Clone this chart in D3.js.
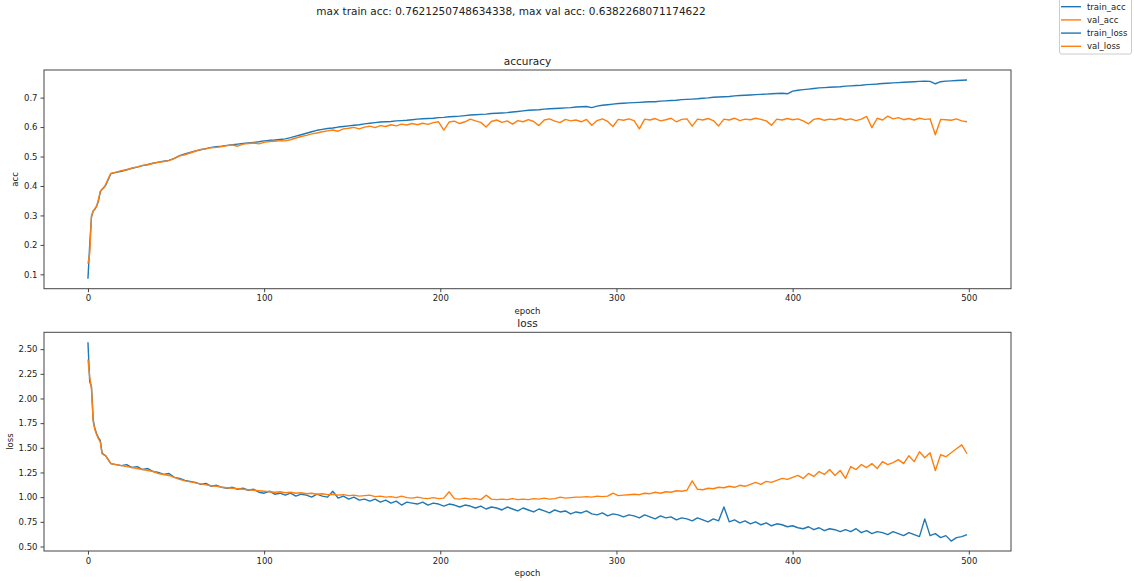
<!DOCTYPE html>
<html>
<head>
<meta charset="utf-8">
<script src="https://cdn.jsdelivr.net/npm/d3@7"></script>
<style>
    body { margin: 0; background: #fff; }
    svg text { font-family: "DejaVu Sans", sans-serif; fill: #222; }
</style>
</head>
<body>
<div id="chart"></div>
<script>
// epochs sampled from the training history
const epochs = [0, 1, 2, 3, 4, 5, 6, 7, 8, 9,
    10, 13, 16, 19, 22, 25, 28, 31, 34, 37,
    40, 43, 46, 49, 52, 55, 58, 61, 64, 67,
    70, 73, 76, 79, 82, 85, 88, 91, 94, 97,
    100, 103, 106, 109, 112, 115, 118, 121, 124, 127,
    130, 133, 136, 139, 142, 145, 148, 151, 154, 157,
    160, 163, 166, 169, 172, 175, 178, 181, 184, 187,
    190, 193, 196, 199, 202, 205, 208, 211, 214, 217,
    220, 223, 226, 229, 232, 235, 238, 241, 244, 247,
    250, 253, 256, 259, 262, 265, 268, 271, 274, 277,
    280, 283, 286, 289, 292, 295, 298, 301, 304, 307,
    310, 313, 316, 319, 322, 325, 328, 331, 334, 337,
    340, 343, 346, 349, 352, 355, 358, 361, 364, 367,
    370, 373, 376, 379, 382, 385, 388, 391, 394, 397,
    400, 403, 406, 409, 412, 415, 418, 421, 424, 427,
    430, 433, 436, 439, 442, 445, 448, 451, 454, 457,
    460, 463, 466, 469, 472, 475, 478, 481, 484, 487,
    490, 493, 496, 499];

const trainAcc = [0.085, 0.200, 0.295, 0.315, 0.322, 0.332, 0.350, 0.380, 0.389, 0.395,
    0.402, 0.442, 0.446, 0.450, 0.455, 0.460, 0.464, 0.469, 0.473, 0.477,
    0.481, 0.484, 0.487, 0.494, 0.503, 0.509, 0.514, 0.519, 0.523, 0.527,
    0.531, 0.533, 0.535, 0.538, 0.540, 0.542, 0.544, 0.546, 0.548, 0.550,
    0.553, 0.555, 0.556, 0.558, 0.560, 0.564, 0.569, 0.574, 0.579, 0.584,
    0.589, 0.592, 0.595, 0.597, 0.600, 0.602, 0.604, 0.606, 0.608, 0.611,
    0.613, 0.615, 0.617, 0.618, 0.619, 0.621, 0.622, 0.623, 0.625, 0.627,
    0.628, 0.629, 0.630, 0.632, 0.633, 0.635, 0.636, 0.637, 0.639, 0.641,
    0.642, 0.643, 0.644, 0.646, 0.647, 0.648, 0.649, 0.651, 0.653, 0.655,
    0.657, 0.658, 0.659, 0.661, 0.662, 0.663, 0.664, 0.665, 0.666, 0.668,
    0.669, 0.670, 0.666, 0.671, 0.674, 0.676, 0.678, 0.680, 0.681, 0.682,
    0.683, 0.684, 0.685, 0.686, 0.686, 0.688, 0.689, 0.690, 0.691, 0.693,
    0.694, 0.695, 0.696, 0.698, 0.699, 0.701, 0.702, 0.703, 0.704, 0.706,
    0.707, 0.708, 0.709, 0.710, 0.711, 0.712, 0.713, 0.714, 0.715, 0.713,
    0.722, 0.725, 0.727, 0.729, 0.731, 0.733, 0.734, 0.735, 0.736, 0.737,
    0.739, 0.740, 0.741, 0.742, 0.744, 0.745, 0.746, 0.748, 0.749, 0.750,
    0.751, 0.752, 0.753, 0.754, 0.755, 0.756, 0.755, 0.747, 0.754, 0.756,
    0.757, 0.758, 0.759, 0.760];

const valAcc = [0.136, 0.170, 0.300, 0.315, 0.324, 0.333, 0.355, 0.382, 0.388, 0.393,
    0.405, 0.443, 0.447, 0.452, 0.455, 0.461, 0.465, 0.470, 0.472, 0.477,
    0.480, 0.483, 0.486, 0.493, 0.502, 0.506, 0.512, 0.518, 0.524, 0.526,
    0.530, 0.531, 0.534, 0.537, 0.539, 0.535, 0.542, 0.544, 0.546, 0.543,
    0.548, 0.551, 0.552, 0.554, 0.553, 0.557, 0.563, 0.568, 0.572, 0.577,
    0.580, 0.584, 0.587, 0.590, 0.586, 0.594, 0.596, 0.599, 0.594, 0.600,
    0.603, 0.598, 0.605, 0.602, 0.608, 0.604, 0.610, 0.607, 0.612, 0.608,
    0.613, 0.609, 0.615, 0.618, 0.590, 0.617, 0.620, 0.612, 0.618, 0.627,
    0.621, 0.616, 0.600, 0.619, 0.624, 0.616, 0.621, 0.610, 0.622, 0.618,
    0.625, 0.619, 0.605, 0.624, 0.628, 0.620, 0.615, 0.626, 0.621, 0.624,
    0.618, 0.626, 0.606, 0.622, 0.628, 0.619, 0.602, 0.626, 0.623, 0.628,
    0.622, 0.594, 0.627, 0.624, 0.629, 0.621, 0.625, 0.630, 0.618, 0.626,
    0.628, 0.603, 0.627, 0.624, 0.629, 0.622, 0.604, 0.627, 0.624, 0.630,
    0.622, 0.627, 0.625, 0.630, 0.626, 0.621, 0.606, 0.627, 0.624, 0.629,
    0.625, 0.628, 0.621, 0.611, 0.626, 0.629, 0.623, 0.627, 0.625, 0.630,
    0.624, 0.628, 0.622, 0.627, 0.636, 0.598, 0.630, 0.624, 0.637, 0.628,
    0.632, 0.625, 0.629, 0.624, 0.630, 0.626, 0.628, 0.574, 0.626, 0.625,
    0.623, 0.628, 0.621, 0.618];

const trainLoss = [2.57, 2.17, 2.12, 1.78, 1.69, 1.64, 1.60, 1.575, 1.45, 1.43,
    1.42, 1.34, 1.33, 1.32, 1.33, 1.30, 1.31, 1.28, 1.29, 1.26,
    1.25, 1.23, 1.24, 1.20, 1.19, 1.17, 1.16, 1.15, 1.13, 1.14,
    1.11, 1.12, 1.10, 1.09, 1.10, 1.08, 1.09, 1.07, 1.08, 1.05,
    1.04, 1.06, 1.03, 1.04, 1.02, 1.04, 1.01, 1.03, 1.02, 1.00,
    1.03, 1.01, 1.00, 1.06, 0.99, 1.01, 0.98, 1.00, 0.97, 0.98,
    0.96, 0.98, 0.95, 0.97, 0.94, 0.96, 0.92, 0.95, 0.94, 0.93,
    0.95, 0.92, 0.94, 0.93, 0.91, 0.93, 0.92, 0.90, 0.92, 0.91,
    0.89, 0.91, 0.88, 0.90, 0.89, 0.87, 0.90, 0.88, 0.86, 0.89,
    0.87, 0.85, 0.88, 0.86, 0.84, 0.87, 0.85, 0.86, 0.83, 0.85,
    0.84, 0.86, 0.83, 0.82, 0.84, 0.81, 0.83, 0.82, 0.80, 0.82,
    0.81, 0.79, 0.82, 0.80, 0.78, 0.81, 0.79, 0.80, 0.77, 0.79,
    0.78, 0.76, 0.79, 0.77, 0.75, 0.78, 0.76, 0.90, 0.75, 0.77,
    0.74, 0.76, 0.73, 0.75, 0.72, 0.74, 0.71, 0.73, 0.72, 0.70,
    0.71, 0.69, 0.68, 0.70, 0.67, 0.69, 0.66, 0.68, 0.67, 0.65,
    0.67, 0.65, 0.68, 0.64, 0.66, 0.63, 0.65, 0.64, 0.62, 0.65,
    0.63, 0.61, 0.64, 0.62, 0.60, 0.78, 0.61, 0.63, 0.59, 0.61,
    0.555, 0.59, 0.60, 0.62];

const valLoss = [2.395, 2.22, 2.10, 1.76, 1.68, 1.63, 1.59, 1.56, 1.44, 1.43,
    1.42, 1.34, 1.33, 1.32, 1.31, 1.30, 1.29, 1.28, 1.27, 1.26,
    1.24, 1.23, 1.22, 1.20, 1.18, 1.165, 1.155, 1.145, 1.135, 1.125,
    1.115, 1.11, 1.10, 1.095, 1.09, 1.085, 1.08, 1.075, 1.07, 1.065,
    1.06, 1.055, 1.05, 1.055, 1.045, 1.05, 1.04, 1.045, 1.035, 1.04,
    1.03, 1.035, 1.025, 1.03, 1.02, 1.025, 1.015, 1.02, 1.01, 1.015,
    1.02, 1.005, 1.01, 1.00, 1.005, 0.995, 1.01, 0.995, 0.99, 1.00,
    0.99, 0.985, 0.995, 0.985, 0.99, 1.055, 0.985, 0.98, 0.99, 0.98,
    0.985, 0.975, 1.02, 0.98, 0.975, 0.98, 0.975, 0.985, 0.975, 0.98,
    0.975, 0.985, 0.98, 0.99, 0.98, 0.985, 1.00, 0.99, 0.995, 1.00,
    1.00, 1.005, 1.00, 1.01, 1.005, 1.01, 1.04, 1.015, 1.02, 1.025,
    1.03, 1.025, 1.04, 1.035, 1.05, 1.04, 1.055, 1.05, 1.065, 1.06,
    1.07, 1.165, 1.08, 1.075, 1.09, 1.085, 1.10, 1.095, 1.11, 1.10,
    1.12, 1.11, 1.13, 1.15, 1.13, 1.16, 1.15, 1.17, 1.19, 1.18,
    1.20, 1.22, 1.19, 1.24, 1.21, 1.26, 1.23, 1.28, 1.22, 1.27,
    1.19, 1.31, 1.28, 1.33, 1.30, 1.34, 1.29, 1.36, 1.33, 1.35,
    1.38, 1.34, 1.42, 1.36, 1.46, 1.40, 1.45, 1.27, 1.43, 1.41,
    1.45, 1.49, 1.53, 1.44];

const xTicks = [0, 100, 200, 300, 400, 500];
const accTicks = [0.1, 0.2, 0.3, 0.4, 0.5, 0.6, 0.7];
const lossTicks = [0.5, 0.75, 1.0, 1.25, 1.5, 1.75, 2.0, 2.25, 2.5];

const seriesNames = ["train_acc", "val_acc", "train_loss", "val_loss"];
const blue = "#1f77b4";
const orange = "#ff7f0e";

const width = 1134;
const height = 581;

const svg = d3.select("#chart")
    .append("svg")
    .attr("width", width)
    .attr("height", height);

// matplotlib style autoscale: data range plus 5% margin each side
function paddedDomain(arrays) {
    const lo = d3.min(arrays, function (a) { return d3.min(a); });
    const hi = d3.max(arrays, function (a) { return d3.max(a); });
    const pad = (hi - lo) * 0.05;
    return [lo - pad, hi + pad];
}

const xExtent = d3.extent(epochs);
const xPad = (xExtent[1] - xExtent[0]) * 0.05;
const x = d3.scaleLinear()
    .domain([xExtent[0] - xPad, xExtent[1] + xPad])
    .range([44, 1011]);

function drawPanel(params) {
    const y = d3.scaleLinear()
        .domain(paddedDomain(params.series.map(function (s) { return s.values; })))
        .range([params.bottom, params.top]);

    const g = svg.append("g");

    // lines
    const line = d3.line()
        .x(function (d) { return x(d[0]); })
        .y(function (d) { return y(d[1]); });

    params.series.forEach(function (s) {
        g.append("path")
            .datum(d3.zip(epochs, s.values))
            .attr("fill", "none")
            .attr("stroke", s.color)
            .attr("stroke-width", 1.4)
            .attr("stroke-linejoin", "round")
            .attr("d", line);
    });

    // frame
    g.append("rect")
        .attr("x", 44)
        .attr("y", params.top)
        .attr("width", 1011 - 44)
        .attr("height", params.bottom - params.top)
        .attr("fill", "none")
        .attr("stroke", "#444")
        .attr("stroke-width", 1);

    const xAxis = d3.axisBottom(x)
        .tickValues(xTicks)
        .tickSize(3.5)
        .tickPadding(3);
    const xg = g.append("g")
        .attr("transform", "translate(0," + params.bottom + ")")
        .call(xAxis);

    const yAxis = d3.axisLeft(y)
        .tickValues(params.ticks)
        .tickFormat(d3.format(params.fmt))
        .tickSize(3.5)
        .tickPadding(3);
    const yg = g.append("g")
        .attr("transform", "translate(44,0)")
        .call(yAxis);

    [xg, yg].forEach(function (ax) {
        ax.select(".domain").remove();
        ax.selectAll(".tick line").attr("stroke", "#444");
        ax.selectAll(".tick text")
            .style("font-size", "8.5px")
            .attr("fill", "#222");
    });

    g.append("text")
        .attr("x", (44 + 1011) / 2)
        .attr("y", params.top - 5)
        .attr("text-anchor", "middle")
        .style("font-size", "10.5px")
        .text(params.title);

    g.append("text")
        .attr("x", (44 + 1011) / 2)
        .attr("y", params.bottom + 25)
        .attr("text-anchor", "middle")
        .style("font-size", "8.5px")
        .text("epoch");

    g.append("text")
        .attr("transform", "translate(" + params.ylabelX + "," + ((params.top + params.bottom) / 2) + ") rotate(-90)")
        .attr("text-anchor", "middle")
        .style("font-size", "8.5px")
        .text(params.ylabel);
}

drawPanel({
    top: 70,
    bottom: 288.7,
    series: [{values: trainAcc, color: blue}, {values: valAcc, color: orange}],
    ticks: accTicks,
    fmt: ".1f",
    title: "accuracy",
    ylabel: "acc",
    ylabelX: 18
});

drawPanel({
    top: 332.3,
    bottom: 551,
    series: [{values: trainLoss, color: blue}, {values: valLoss, color: orange}],
    ticks: lossTicks,
    fmt: ".2f",
    title: "loss",
    ylabel: "loss",
    ylabelX: 13
});

// figure title
svg.append("text")
    .attr("x", 511)
    .attr("y", 15)
    .attr("text-anchor", "middle")
    .style("font-size", "10.5px")
    .text("max train acc: " + "0.7621250748634338" + ", max val acc: " + "0.6382268071174622");

// legend
const legend = svg.append("g");
legend.append("rect")
    .attr("x", 1059.5)
    .attr("y", -2)
    .attr("width", 72)
    .attr("height", 56)
    .attr("rx", 2)
    .attr("fill", "#fff")
    .attr("stroke", "#ccc")
    .attr("stroke-width", 1);

const legendColors = [blue, orange, blue, orange];
const items = legend.selectAll("g.item")
    .data(seriesNames)
    .enter()
    .append("g")
    .attr("class", "item")
    .attr("transform", function (d, i) { return "translate(0," + (6.7 + i * 13.2) + ")"; });

items.append("line")
    .attr("x1", 1061)
    .attr("x2", 1081)
    .attr("stroke", function (d, i) { return legendColors[i]; })
    .attr("stroke-width", 1.4);

items.append("text")
    .attr("x", 1087)
    .attr("y", 3)
    .style("font-size", "8.5px")
    .text(function (d) { return d; });
</script>
</body>
</html>
